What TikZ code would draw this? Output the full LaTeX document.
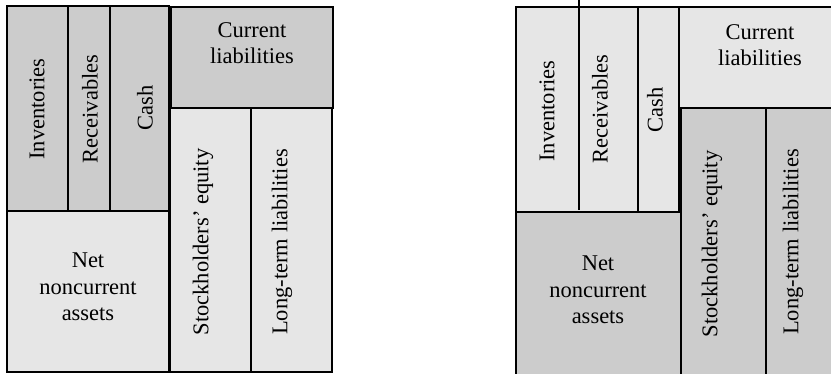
\documentclass[tikz,border=0pt]{standalone}
\usepackage{fontspec}
\setmainfont{Liberation Serif}
\definecolor{dark}{HTML}{CCCCCC}
\definecolor{light}{HTML}{E6E6E6}
\tikzset{
  boxd/.style={fill=dark, draw=black, line width=1.5pt, line join=miter},
  boxl/.style={fill=light, draw=black, line width=1.5pt, line join=miter},
  sep/.style={draw=black, line width=1.5pt},
  lab/.style={font=\fontsize{22.5}{26.5}\selectfont, align=center, inner sep=0pt},
  labv/.style={lab, rotate=90},
}
\begin{document}
\begin{tikzpicture}[x=1pt, y=-1pt]
  \useasboundingbox (0,0) rectangle (831,374);
  \clip (0,0) rectangle (831,374);
  % left sheet
  \draw[boxl] (7,211) rectangle (169,372);
  \draw[boxd, line width=2pt] (7,6) rectangle (169,211);
  \draw[sep] (68,6) -- (68,211) (110,6) -- (110,211);
  \draw[boxd] (171,7) rectangle (333,108);
  \draw[boxl] (170,108) rectangle (251,372);
  \draw[boxl] (251,108) rectangle (332,372);
  \node[labv] (invA) at (37,109) {Inventories};
  \node[labv] (recA) at (90,109) {Receivables};
  \node[labv] (cashA) at (145,108) {Cash};
  \node[lab, anchor=north] (clA) at (252,22) {Current\\liabilities};
  \node[lab] (nncA) at (88,287) {Net\\noncurrent\\assets};
  \node[labv] (seA) at (203,242) {Stockholders' equity};
  \node[labv] (ltA) at (282,242) {Long-term liabilities};
  % right sheet
  \draw[boxl] (516,7) rectangle (679,212);
  \draw[sep] (579,0) -- (579,210) (638,7) -- (638,212);
  \draw[boxd] (516,212) rectangle (681,390);
  \draw[boxl] (679,7) rectangle (850,108);
  \draw[boxd] (681,108) rectangle (766,390);
  \draw[boxd] (766,108) rectangle (850,390);
  \node[labv] (invB) at (547,111) {Inventories};
  \node[labv] (recB) at (600,109) {Receivables};
  \node[labv] (cashB) at (655,110) {Cash};
  \node[lab, anchor=north] (clB) at (760,24) {Current\\liabilities};
  \node[lab] (nncB) at (598,290) {Net\\noncurrent\\assets};
  \node[labv] (seB) at (712,244) {Stockholders' equity};
  \node[labv] (ltB) at (793,242) {Long-term liabilities};
\end{tikzpicture}
\end{document}
